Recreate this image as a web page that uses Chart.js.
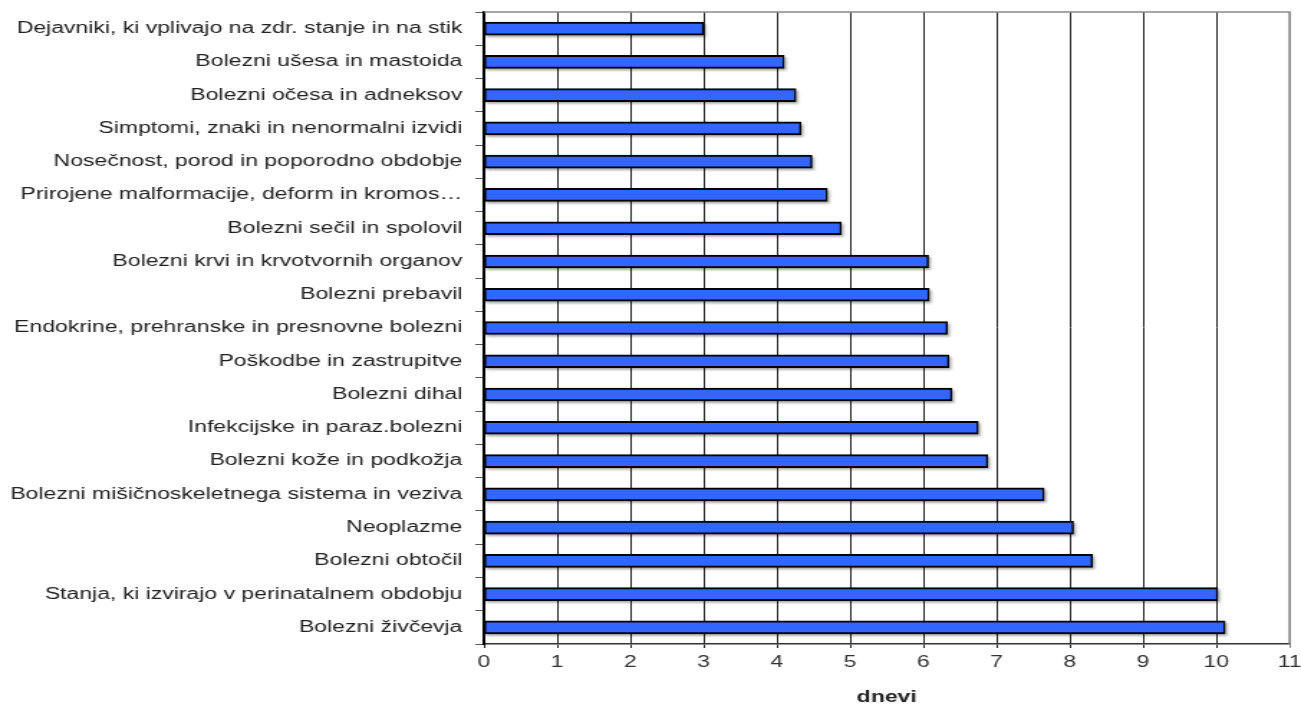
<!DOCTYPE html>
<html>
<head>
<meta charset="utf-8">
<script src="https://cdn.jsdelivr.net/npm/chart.js@4/dist/chart.umd.min.js"></script>
<style>
  body { margin: 0; background: #fff; }
</style>
</head>
<body>
<!-- the chart is drawn narrow and stretched sideways, like the original picture -->
<canvas id="chart" width="906" height="707" style="width:1301px;height:707px"></canvas>
<script>
const categories = [
  "Dejavniki, ki vplivajo na zdr. stanje in na stik",
  "Bolezni ušesa in mastoida",
  "Bolezni očesa in adneksov",
  "Simptomi, znaki in nenormalni izvidi",
  "Nosečnost, porod in poporodno obdobje",
  "Prirojene malformacije, deform in kromos…",
  "Bolezni sečil in spolovil",
  "Bolezni krvi in krvotvornih organov",
  "Bolezni prebavil",
  "Endokrine, prehranske in presnovne bolezni",
  "Poškodbe in zastrupitve",
  "Bolezni dihal",
  "Infekcijske in paraz.bolezni",
  "Bolezni kože in podkožja",
  "Bolezni mišičnoskeletnega sistema in veziva",
  "Neoplazme",
  "Bolezni obtočil",
  "Stanja, ki izvirajo v perinatalnem obdobju",
  "Bolezni živčevja"
];
const days = [3.0, 4.10, 4.26, 4.33, 4.48, 4.69, 4.88, 6.07, 6.08, 6.33, 6.35, 6.39, 6.75, 6.88, 7.65, 8.05, 8.31, 10.02, 10.12];
const xMin = 0;
const xMax = 11;
const axisTitle = "dnevi";

const fontFamily = "'Liberation Sans', Arial, sans-serif";

// grey drop shadow behind each bar
const barShadow = {
  id: "barShadow",
  beforeDatasetsDraw(chart) {
    const ctx = chart.ctx;
    const meta = chart.getDatasetMeta(0);
    ctx.save();
    ctx.fillStyle = "rgba(0, 0, 0, 0.35)";
    ctx.filter = "blur(1px)";
    meta.data.forEach((bar) => {
      const p = bar.getProps(["x", "y", "base", "height"], true);
      ctx.fillRect(p.base + 1, p.y - p.height / 2 + 2, p.x - p.base + 0.5, p.height);
    });
    ctx.restore();
  },
};

// grey frame on top and right of the plot
const plotFrame = {
  id: "plotFrame",
  afterDraw(chart) {
    const { ctx, chartArea } = chart;
    ctx.save();
    ctx.strokeStyle = "#8a8a8a";
    ctx.lineWidth = 1.5;
    ctx.beginPath();
    ctx.moveTo(chartArea.left, chartArea.top);
    ctx.lineTo(chartArea.right, chartArea.top);
    ctx.lineTo(chartArea.right, chartArea.bottom);
    ctx.stroke();
    ctx.restore();
  },
};

const ctx = document.getElementById("chart");

let daysChart = new Chart(ctx, {
  type: "bar",
  data: {
    labels: categories,
    datasets: [
      {
        data: days,
        backgroundColor: "#3366ff",
        borderColor: "#000",
        borderWidth: { top: 2, bottom: 2, left: 1.4, right: 1.5 },
        borderSkipped: false,
        barThickness: 13,
      },
    ],
  },
  options: {
    indexAxis: "y",
    responsive: false,
    devicePixelRatio: 1,
    animation: false,
    layout: {
      padding: { left: 0, right: 8, top: 12, bottom: 0 },
    },
    plugins: {
      legend: { display: false },
      tooltip: { enabled: false },
    },
    scales: {
      x: {
        min: xMin,
        max: xMax,
        ticks: {
          stepSize: 1,
          color: "#333",
          padding: 5,
          font: { family: fontFamily, size: 16 },
        },
        grid: {
          color: (c) => (c.tick && c.tick.value === xMax ? "#8a8a8a" : "#222"),
          lineWidth: 1,
          tickLength: 4,
        },
        border: { color: "#333", width: 1.5 },
        title: {
          display: true,
          text: axisTitle,
          color: "#222",
          padding: { top: 0, bottom: 0 },
          font: { family: fontFamily, size: 16, weight: "bold" },
        },
        afterFit: (scale) => {
          scale.height = 63;
          scale.paddingLeft = 0;
          scale.paddingRight = 0;
        },
      },
      y: {
        ticks: {
          color: "#222",
          padding: 9,
          font: { family: fontFamily, size: 16 },
        },
        grid: {
          drawOnChartArea: false,
          drawTicks: true,
          offset: true,
          tickLength: 6,
          color: "#555",
        },
        border: { color: "#000", width: 2 },
        afterFit: (scale) => {
          scale.width = 337;
          scale.paddingTop = 0;
          scale.paddingBottom = 0;
        },
      },
    },
  },
  plugins: [barShadow, plotFrame],
});
</script>
</body>
</html>
